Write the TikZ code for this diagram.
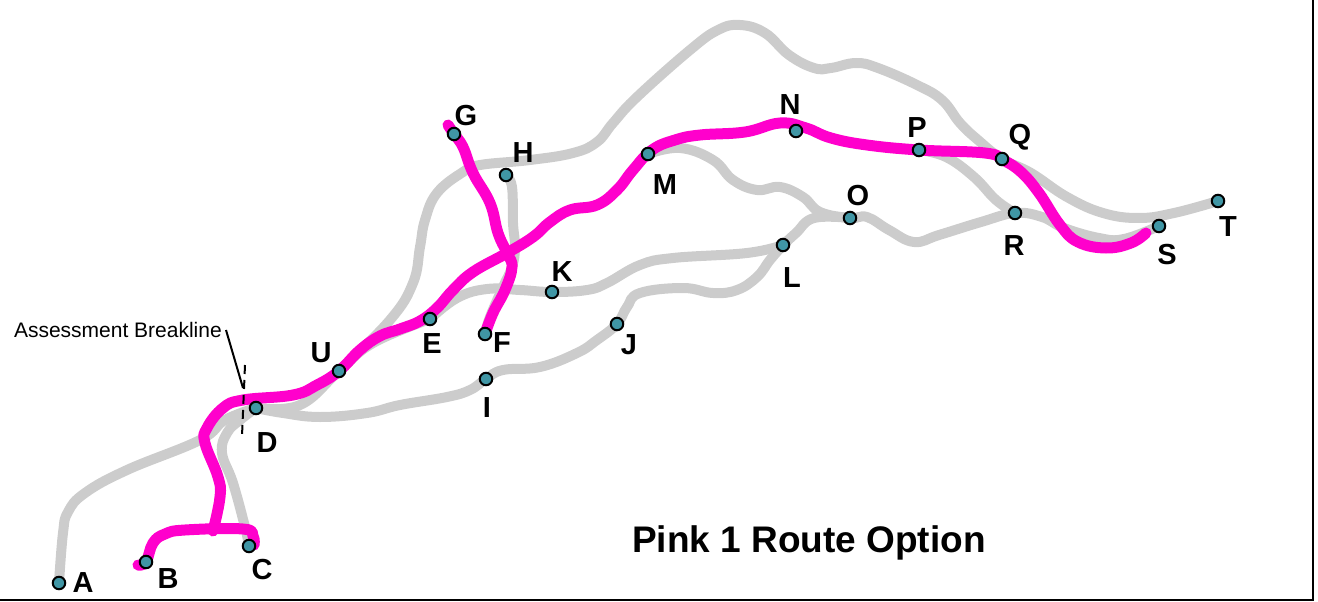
\documentclass[tikz,border=0pt]{standalone}
\usepackage{fontspec}
\setmainfont{Liberation Sans}
\usetikzlibrary{backgrounds}
\definecolor{routegrey}{RGB}{204,204,204}
\definecolor{routepink}{RGB}{255,0,204}
\definecolor{stopteal}{RGB}{64,150,165}
\tikzset{
    stop/.style={circle, fill=stopteal, draw=black, line width=2, inner sep=0, minimum size=12.5},
    stoplabel/.style={font=\fontsize{29}{29}\selectfont\bfseries, inner sep=0},
    route/.style={draw=routegrey, line width=10, line cap=round, line join=round},
    pinkroute/.style={draw=routepink, line width=11, line cap=round, line join=round}
}

\begin{document}
\begin{tikzpicture}[x=1pt, y=-1pt]
        \useasboundingbox (0, 0) rectangle (1318, 602);
        \coordinate (frameTop) at (1313, 0);
        \coordinate (frameCorner) at (1313, 600);
        \coordinate (frameLeft) at (0, 600);
        \draw[line width=2.5] (frameTop)--(frameCorner)--(frameLeft);

        % stops
        \foreach \name/\x/\y in {A/59/583, B/146/562, C/249/546, D/256/408, U/339/371, E/430/319, F/485/334,
                G/454/134, H/506/175, I/486/379, J/617/324, K/552/292, L/783/245, M/648/154, N/796/131,
                O/850/218, P/919/150, Q/1002/159, R/1015/213, S/1159/226, T/1218/201}
            \node[stop] (\name) at (\x, \y) {};

        % stop labels
        \foreach \name/\x/\y in {A/83/583, B/168/579, C/262/570, D/267/443, U/321/353, E/432/344, F/502/343,
                G/466/116, H/523/153, I/487/408, J/629/345, K/562/272, L/792/278, M/665/185, N/790/105,
                O/858/196, P/917/128, Q/1020/137, R/1014/246, S/1167/255, T/1228/227}
            \node[stoplabel] (label\name) at (\x, \y) {\name};

        \begin{pgfonlayer}{background}
        % grey routes
        \draw[route] plot[smooth, tension=0.7] coordinates {(A) (63, 533) (68, 512) (85, 493) (127, 470)
                (200, 440) (225, 420) (D)};
        \draw[route] plot[smooth, tension=0.7] coordinates {(C) (245, 527) (233, 483) (222, 453) (227, 433)
                (240, 420) (D)};
        \draw[route] plot[smooth, tension=0.7] coordinates {(D) (300, 405) (U) (373, 343) (E)};
        \draw[route] plot[smooth, tension=0.7] coordinates {(U) (390, 320) (413, 283) (420, 247) (425, 220)
                (437, 193) (463, 172) (480, 165) (530, 160) (573, 153) (597, 142) (613, 123) (637, 97)
                (690, 50) (718, 30) (740, 25) (765, 33) (789, 55) (814, 68) (831, 68) (856, 63) (878, 68)
                (917, 85) (942, 100) (960, 123) (978, 140) (Q) (1031, 173) (1067, 197) (1103, 213)
                (1139, 218) (1174, 213) (T)};
        \draw[route] plot[smooth, tension=0.7] coordinates {(P) (946, 157) (974, 177) (996, 200) (R)};
        \draw[route] plot[smooth, tension=0.7] coordinates {(M) (680, 148) (713, 160) (733, 180) (757, 190)
                (780, 187) (803, 197) (820, 212) (O) (867, 217) (889, 230) (914, 242) (939, 235) (981, 222)
                (R) (1042, 217) (1064, 228) (1099, 238) (1124, 239) (S)};
        \draw[route] plot[smooth, tension=0.7] coordinates {(L) (796, 233) (814, 218) (O)};
        \draw[route] plot[smooth, tension=0.7] coordinates {(E) (457, 298) (487, 289) (520, 290) (K) (587, 290)
                (607, 283) (640, 265) (673, 258) (747, 253) (L)};
        \draw[route] plot[smooth, tension=0.7] coordinates {(L) (770, 260) (757, 277) (737, 290) (713, 293)
                (683, 288) (640, 293) (627, 307) (J) (597, 340) (577, 353) (540, 367) (503, 370) (I)
                (470, 390) (447, 397) (400, 405) (367, 413) (320, 417) (283, 413) (D)};
        \draw[route] plot[smooth, tension=0.7] coordinates {(H) (512, 187) (513, 223) (515, 247) (512, 267)
                (503, 287) (490, 317) (F)};

        % pink routes
        \coordinate (endG) at (448, 125);
        \coordinate (endS) at (1146, 233);
        \coordinate (endB) at (138, 565);
        \coordinate (junctionBC) at (213, 531);
        \draw[pinkroute] plot[smooth, tension=0.7] coordinates {(endG) (G) (463, 147) (473, 173) (490, 203)
                (498, 233) (507, 253) (512, 267) (505, 290) (493, 313) (F)};
        \draw[pinkroute] plot[smooth, tension=0.7] coordinates {(endS) (1131, 243) (1106, 248) (1078, 242)
                (1060, 225) (1039, 193) (1021, 172) (1003, 160) (985, 153) (P) (867, 145) (831, 138) (806, 128)
                (780, 123) (745, 132) (700, 135) (675, 140) (652, 150) (633, 170) (617, 190) (597, 205) (570, 210)
                (550, 222) (533, 237) (507, 253) (473, 272) (453, 290) (437, 308) (420, 321) (400, 329) (380, 336) (360, 350)
                (U) (317, 385) (293, 395) (243, 400) (223, 408) (207, 428) (205, 443) (218, 477) (220, 497)
                (junctionBC)};
        \draw[pinkroute] plot[smooth, tension=0.7] coordinates {(endB) (B) (153, 543) (165, 534) (185, 530)
                (243, 529) (253, 536) (254, 545)};
        \end{pgfonlayer}

        % breakline
        \coordinate (breakTop) at (245, 365);
        \coordinate (breakBottom) at (242, 436);
        \coordinate (leaderEnd) at (243, 388);
        \draw[line width=2, dash pattern=on 9 off 6] (breakTop)--(breakBottom);
        \node[font=\fontsize{21}{21}\selectfont, inner sep=0, anchor=east] (breakline) at (222, 330) {Assessment Breakline};
        \draw[line width=2] (breakline.east)++(4, 0)--(leaderEnd);

        \node[font=\fontsize{37}{37}\selectfont\bfseries, inner sep=0] (title) at (809, 543) {Pink 1 Route Option};
\end{tikzpicture}
\end{document}
